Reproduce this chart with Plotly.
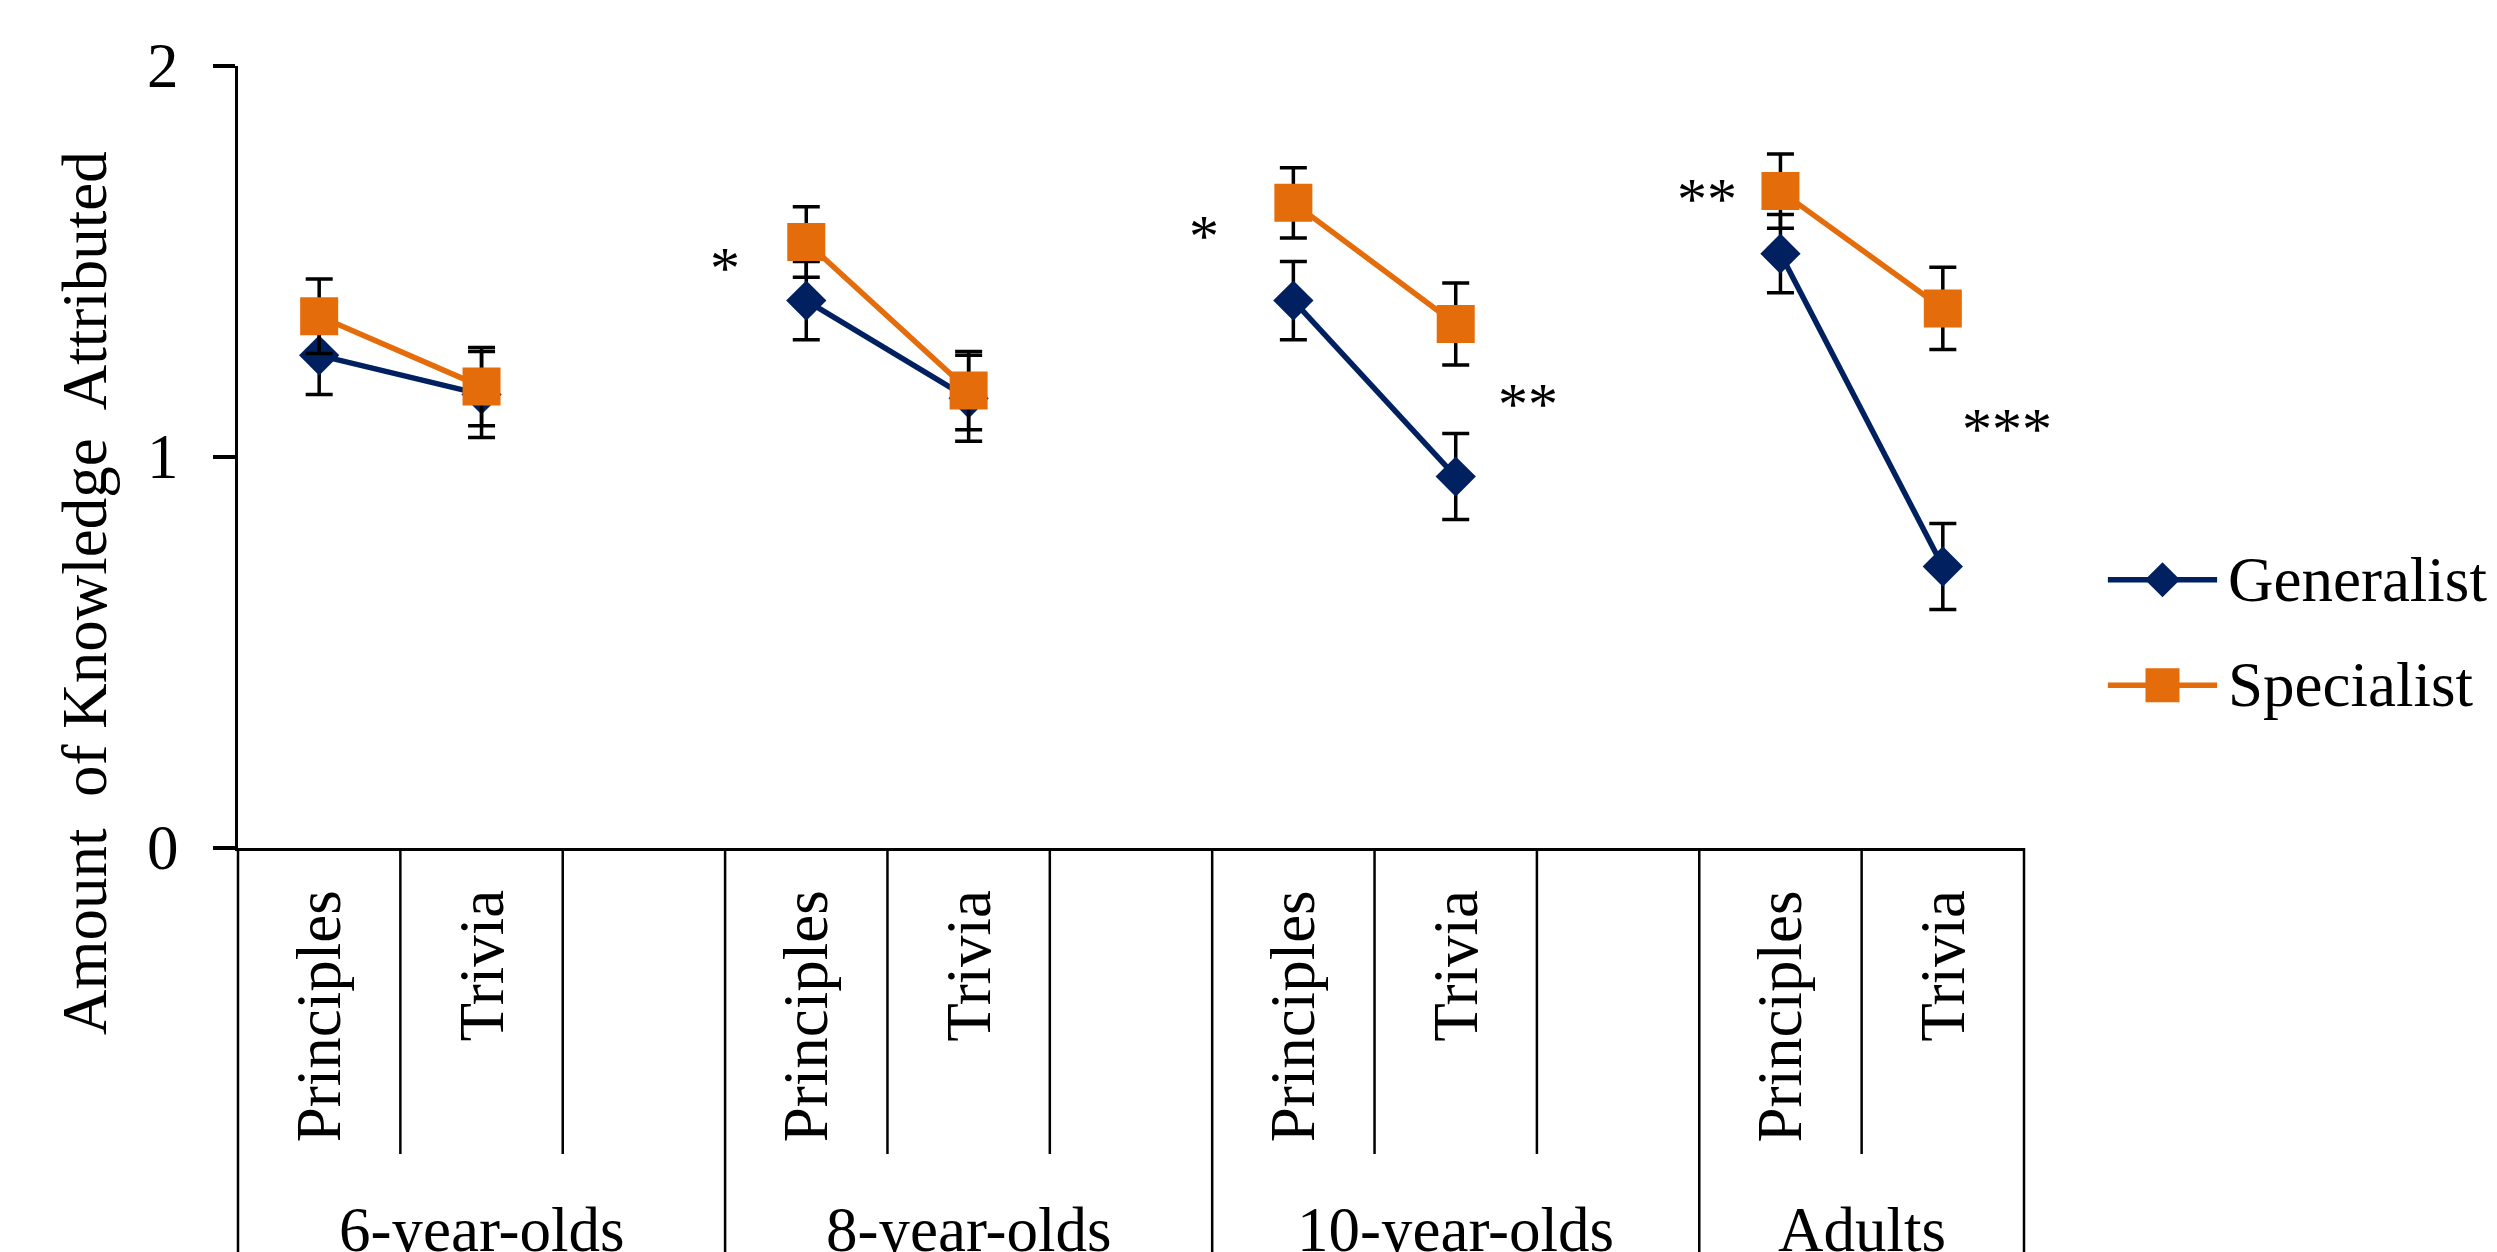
import plotly.graph_objects as go

# ---------------- data ----------------
groups = ["6-year-olds", "8-year-olds", "10-year-olds", "Adults"]
conditions = ["Principles", "Trivia"]

generalist_mean = [1.26, 1.16, 1.40, 1.15, 1.40, 0.95, 1.52, 0.72]
generalist_se = [0.10, 0.11, 0.10, 0.11, 0.10, 0.11, 0.10, 0.11]
specialist_mean = [1.36, 1.18, 1.55, 1.17, 1.65, 1.34, 1.68, 1.38]
specialist_se = [0.095, 0.10, 0.09, 0.10, 0.09, 0.105, 0.095, 0.105]

series_names = ["Generalist", "Specialist"]
star_labels = ["*", "*", "**", "**", "***"]
star_x = [2.997, 5.95, 9.045, 7.945, 10.896]
star_y = [1.51, 1.59, 1.686, 1.161, 1.098]

y_ticks = [0, 1, 2]
y_tick_labels = ["0", "1", "2"]
y_title = "Amount\u00a0 of Knowledge\u00a0 Attributed"

# ---------------- styles ----------------
FONT = "Liberation Serif"
FS = 63
NAVY = "#002060"
ORANGE = "#E46C0A"
W, H = 2497, 1252
ML, MR, MT, MB = 238, 0, 66, 404
PLOT_W = W - ML - MR
PLOT_H = H - MT - MB
AXIS_PX = 1786  # width of the category axis in px
X_DOM = AXIS_PX / PLOT_W

slots_per_group = len(conditions) + 1
n_slots = slots_per_group * len(groups) - 1


def px_x(p):
    return (p - ML) / PLOT_W


def px_y(p):
    return (H - MB - p) / PLOT_H


def build(vals, errs):
    xs, ys, es = [], [], []
    for g in range(len(groups)):
        for k in range(len(conditions)):
            xs.append(g * slots_per_group + k + 0.5)
            ys.append(vals[g * len(conditions) + k])
            es.append(errs[g * len(conditions) + k])
        xs.append(None)
        ys.append(None)
        es.append(0)
    return xs, ys, es


fig = go.Figure()

styles = [
    dict(color=NAVY, symbol="diamond", size=31, legend_size=27),
    dict(color=ORANGE, symbol="square", size=38, legend_size=34),
]
for name, vals, errs, st in zip(series_names, [generalist_mean, specialist_mean],
                                [generalist_se, specialist_se], styles):
    xs, ys, es = build(vals, errs)
    fig.add_trace(go.Scatter(
        x=xs, y=ys, name=name, mode="lines+markers",
        line=dict(color=st["color"], width=5.5),
        marker=dict(color=st["color"], symbol=st["symbol"], size=st["size"]),
        error_y=dict(type="data", array=es, visible=True, color="black",
                     thickness=3.5, width=13.5),
        connectgaps=False, showlegend=False, xaxis="x", yaxis="y",
    ))

# custom legend (drawn in a small hidden subplot so markers keep full size)
for i, (name, st) in enumerate(zip(series_names, styles)):
    fig.add_trace(go.Scatter(
        x=[0, 1], y=[i, i], mode="lines", line=dict(color=st["color"], width=5.5),
        xaxis="x2", yaxis="y2", showlegend=False, hoverinfo="skip"))
    fig.add_trace(go.Scatter(
        x=[0.5], y=[i], mode="markers", cliponaxis=False,
        marker=dict(color=st["color"], symbol=st["symbol"], size=st["legend_size"]),
        xaxis="x2", yaxis="y2", showlegend=False, hoverinfo="skip"))

shapes = []
for b in range(n_slots + 1):
    major = (b % slots_per_group == 0) or (b == n_slots)
    shapes.append(dict(
        type="line", xref="paper", yref="paper",
        x0=b / n_slots * X_DOM, x1=b / n_slots * X_DOM,
        y0=0, y1=px_y(1270) if major else px_y(1154),
        line=dict(color="black", width=2.5)))

annotations = []
for g, gname in enumerate(groups):
    for k, cname in enumerate(conditions):
        annotations.append(dict(
            x=g * slots_per_group + k + 0.5, xref="x", y=0, yref="paper",
            yshift=-40, text=cname, textangle=-90, showarrow=False,
            xanchor="center", yanchor="top", font=dict(family=FONT, size=FS, color="black")))
    start = g * slots_per_group
    end = min(start + slots_per_group, n_slots)
    annotations.append(dict(
        x=(start + end) / 2, xref="x", y=0, yref="paper", yshift=-382,
        text=gname, showarrow=False, xanchor="center", yanchor="middle",
        font=dict(family=FONT, size=FS, color="black")))

for t, sx, sy in zip(star_labels, star_x, star_y):
    annotations.append(dict(
        x=sx, y=sy, xref="x", yref="y", text=t, showarrow=False,
        xanchor="center", yanchor="middle", yshift=-10,
        font=dict(family=FONT, size=60, color="black")))

# y tick labels
for tv, tl in zip(y_ticks, y_tick_labels):
    annotations.append(dict(
        x=0, xref="paper", xshift=-57, y=tv, yref="y", text=tl, showarrow=False,
        xanchor="right", yanchor="middle", font=dict(family=FONT, size=FS, color="black")))

annotations.append(dict(
    x=0, xref="paper", xshift=-153, y=0, yref="paper", yshift=848 - 593,
    text=y_title, textangle=-90, showarrow=False, xanchor="center", yanchor="middle",
    font=dict(family=FONT, size=FS, color="black")))

for i, name in enumerate(series_names):
    annotations.append(dict(
        x=px_x(2226), xref="paper", y=i, yref="y2", text=name, showarrow=False,
        xanchor="left", yanchor="middle", font=dict(family=FONT, size=FS, color="black")))

fig.update_layout(
    width=W, height=H, autosize=False,
    margin=dict(l=ML, r=MR, t=MT, b=MB, pad=0),
    paper_bgcolor="white", plot_bgcolor="rgba(0,0,0,0)",
    showlegend=False,
    font=dict(family=FONT, size=FS, color="black"),
    xaxis=dict(domain=[0, X_DOM], range=[0, n_slots], showline=True, linewidth=3,
               linecolor="black", showticklabels=False, ticks="", showgrid=False,
               zeroline=False, fixedrange=True),
    yaxis=dict(range=[0, 2], tickvals=y_ticks, ticks="outside", ticklen=22, tickwidth=3.5,
               tickcolor="black", showline=True, linewidth=3.3, linecolor="black",
               showgrid=False, zeroline=False, showticklabels=False, fixedrange=True),
    xaxis2=dict(domain=[px_x(2086), px_x(2239)], range=[-0.2, 1.2], visible=False,
                anchor="y2", fixedrange=True),
    yaxis2=dict(domain=[px_y(738), px_y(527)], range=[1.5, -0.5], visible=False,
                anchor="x2", fixedrange=True),
    shapes=shapes, annotations=annotations,
)

fig.write_html("out.html", config={"displayModeBar": False},
               post_script="document.body.style.margin='0';document.body.style.overflow='hidden';")
